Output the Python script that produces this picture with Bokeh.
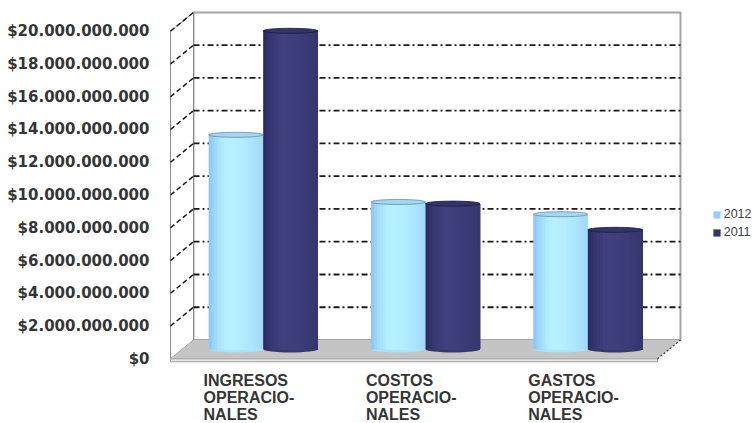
import numpy as np
from bokeh.plotting import figure
from bokeh.models import Range1d, FixedTicker, Legend, LegendItem, ColumnDataSource
from bokeh.embed import file_html
from bokeh.resources import INLINE
from bokeh.core.properties import value

# ---------------- data ----------------
categories = ["INGRESOS\nOPERACIO-\nNALES", "COSTOS\nOPERACIO-\nNALES", "GASTOS\nOPERACIO-\nNALES"]
series_names = ["2012", "2011"]
values_2012 = [13100000000, 9000000000, 8250000000]
values_2011 = [19450000000, 8900000000, 7300000000]
tick_values = [0, 2000000000, 4000000000, 6000000000, 8000000000, 10000000000,
               12000000000, 14000000000, 16000000000, 18000000000, 20000000000]
tick_labels = ["$0", "$2.000.000.000", "$4.000.000.000", "$6.000.000.000", "$8.000.000.000",
               "$10.000.000.000", "$12.000.000.000", "$14.000.000.000", "$16.000.000.000",
               "$18.000.000.000", "$20.000.000.000"]

# ---------------- geometry / style ----------------
W, H = 752, 423
FL = 160                 # frame left (px)
PX_X = 162.33            # px per category
PX_Y = 16.38 / 1e9       # px per value unit
DX = 23 / PX_X           # depth offset (x)
DY = 18.8 / PX_Y         # depth offset (y)
BW = 0.336               # bar width (category units)
NCAT = len(categories)
YMAX = tick_values[-1]
ZERO_PX = 358.3          # canvas y of front-plane zero
X0_PX = 170              # canvas x of front-plane left edge

x0 = (FL - X0_PX) / PX_X
x1 = x0 + (W - FL) / PX_X
y0 = -(H - ZERO_PX) / PX_Y
y1 = ZERO_PX / PX_Y

p = figure(width=W, height=H, output_backend="svg", toolbar_location=None,
           x_range=Range1d(x0, x1), y_range=Range1d(y0, y1),
           x_axis_location=None, min_border_left=FL, min_border_right=0,
           min_border_top=0, min_border_bottom=0)
p.outline_line_color = None
p.grid.visible = False
p.background_fill_color = "white"
p.border_fill_color = "white"

# y axis
p.yaxis.ticker = FixedTicker(ticks=tick_values)
p.yaxis.major_label_overrides = dict(zip(tick_values, tick_labels))
p.yaxis.axis_line_color = None
p.yaxis.major_tick_line_color = None
p.yaxis.minor_tick_line_color = None
p.yaxis.major_label_standoff = 5
p.yaxis.major_label_text_font = "DejaVu Sans"
p.yaxis.major_label_text_font_style = "bold"
p.yaxis.major_label_text_font_size = "15px"
p.yaxis.major_label_text_color = "#353535"

# back wall
p.quad(left=[DX], right=[NCAT + DX], bottom=[DY], top=[YMAX + DY],
       fill_color="white", line_color="#a3a3a3", line_width=2)
# left wall
p.patch([0, DX, DX, 0], [0, DY, YMAX + DY, YMAX], fill_color="white",
        line_color="#8a8a8a", line_width=1)

# gridlines
gx_back, gy_back, gx_side, gy_side = [], [], [], []
for v in tick_values[1:]:
    gx_side.append([0, DX]); gy_side.append([v, v + DY])
    if v < YMAX:
        gx_back.append([DX, NCAT + DX]); gy_back.append([v + DY, v + DY])
p.multi_line(gx_back, gy_back, line_color="#1a1a1a", line_width=1.8, line_dash="6 3 2 3")
p.multi_line(gx_side, gy_side, line_color="#1a1a1a", line_width=1.5, line_dash="5 3")

# floor
p.patch([0, NCAT, NCAT + DX, DX], [0, 0, DY, DY], fill_color="#c4c4c4", line_color=None)
p.quad(left=[0], right=[NCAT], top=[0], bottom=[-3 / PX_Y], fill_color="#e4e4e4",
       line_color="#a0a0a0", line_width=1)
p.line([NCAT, NCAT + DX], [0, DY], line_color="#333333", line_width=1.2, line_dash="2 2")

# bars (cylinders)
edges = [np.array([0x84, 0xbd, 0xf0]), np.array([0x26, 0x26, 0x5a])]
highs = [np.array([0xb6, 0xf0, 0xff]), np.array([0x40, 0x40, 0x7e])]
mids = ["#aae4fc", "#38386f"]
caps = ["#a2d8f4", "#34346a"]
cap_lines = ["#6a8aa6", "#1c1c3c"]
NS = 18


def hexc(c):
    c = np.clip(np.round(c), 0, 255).astype(int)
    return "#%02x%02x%02x" % tuple(c)


def prof(t):
    if t < 0.32:
        return (t / 0.32) ** 0.6
    return 1 - 0.45 * ((t - 0.32) / 0.68) ** 2


series_vals = [values_2012, values_2011]
strips = dict(left=[], right=[], bottom=[], top=[], color=[])
ell_b = dict(x=[], y=[], w=[], color=[])
ell_t = dict(x=[], y=[], w=[], color=[], lc=[])
for s, vals in enumerate(series_vals):
    for i, v in enumerate(vals):
        cx = i + 0.5 + DX / 2 + (s - 0.5) * BW
        left = cx - BW / 2
        base = DY / 2
        for j in range(NS):
            t = (j + 0.5) / NS
            col = edges[s] + (highs[s] - edges[s]) * prof(t)
            strips["left"].append(left + j * BW / NS)
            strips["right"].append(left + BW)
            strips["bottom"].append(base)
            strips["top"].append(v + base)
            strips["color"].append(hexc(col))
        ell_b["x"].append(cx); ell_b["y"].append(base); ell_b["w"].append(BW); ell_b["color"].append(mids[s])
        ell_t["x"].append(cx); ell_t["y"].append(v + base); ell_t["w"].append(BW)
        ell_t["color"].append(caps[s]); ell_t["lc"].append(cap_lines[s])

p.ellipse(x="x", y="y", width="w", height=6, height_units="screen", source=ColumnDataSource(ell_b),
          fill_color="color", line_color=None)
p.quad(left="left", right="right", bottom="bottom", top="top", source=ColumnDataSource(strips),
       fill_color="color", line_color=None)
p.ellipse(x="x", y="y", width="w", height=5, height_units="screen", source=ColumnDataSource(ell_t),
          fill_color="color", line_color="lc", line_width=0.8)

# category labels
lab_x = [i + 0.5 + DX / 2 - 59.6 / PX_X for i in range(NCAT)]
lab_y = [-(371.0 - ZERO_PX) / PX_Y] * NCAT
p.text(x=lab_x, y=lab_y, text=categories, text_font=value("Liberation Sans"),
       text_font_style="bold", text_font_size="16px", text_align="left",
       text_baseline="top", text_line_height=1.0, text_color="#353535")

# legend
r12 = p.quad(left=[np.nan], right=[np.nan], bottom=[np.nan], top=[np.nan],
             fill_color="#99ccff", line_color=None)
r11 = p.quad(left=[np.nan], right=[np.nan], bottom=[np.nan], top=[np.nan],
             fill_color="#333366", line_color=None)
legend = Legend(items=[LegendItem(label=series_names[0], renderers=[r12]),
                       LegendItem(label=series_names[1], renderers=[r11])],
                location=(711.7 - FL, H - 239.7), padding=0, margin=0, spacing=3,
                glyph_width=9, glyph_height=9, label_height=15, label_standoff=3,
                label_text_font="Liberation Sans", label_text_font_size="12.5px",
                label_text_color="#404040", border_line_color=None,
                background_fill_alpha=0)
p.add_layout(legend)

open("out.html", "w").write(file_html(p, INLINE))
